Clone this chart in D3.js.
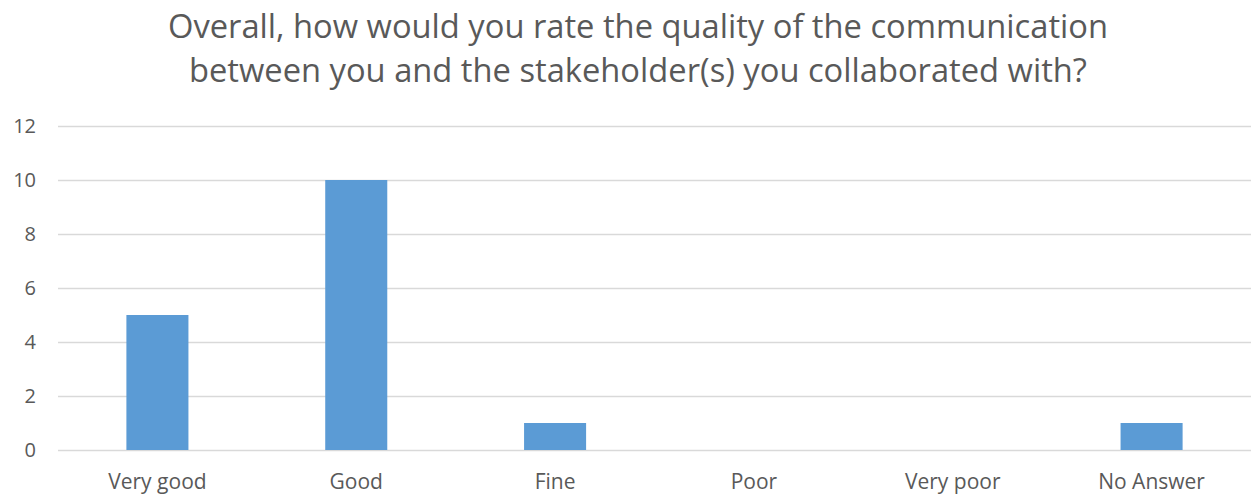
<!DOCTYPE html>
<html>
<head>
<meta charset="utf-8">
<script src="https://cdn.jsdelivr.net/npm/d3@7"></script>
<style>
  html, body { margin: 0; padding: 0; background: #fff; }
  text { font-family: "Open Sans", "Liberation Sans", sans-serif; fill: #595959; }
</style>
</head>
<body>
<svg id="chart" width="1252" height="495"></svg>
<script>
const titleLines = [
  "Overall, how would you rate the quality of the communication",
  "between you and the stakeholder(s) you collaborated with?"
];
const categories = ["Very good", "Good", "Fine", "Poor", "Very poor", "No Answer"];
const values = [5, 10, 1, 0, 0, 1];
const yTicks = [0, 2, 4, 6, 8, 10, 12];

const svg = d3.select("#chart");
const plot = { left: 58, right: 1251, top: 126, bottom: 450 };

const x = d3.scaleBand().domain(categories).range([plot.left, plot.right]).padding(0);
const y = d3.scaleLinear().domain([0, 12]).range([plot.bottom, plot.top]);
const barW = x.bandwidth() * 0.312;

// Horizontal gridlines
svg.append("g").selectAll("line").data(yTicks).join("line")
  .attr("x1", plot.left).attr("x2", plot.right)
  .attr("y1", d => y(d) + 0.5).attr("y2", d => y(d) + 0.5)
  .attr("stroke", "#d9d9d9").attr("stroke-width", 1.3);

// Bars
svg.append("g").selectAll("rect").data(values).join("rect")
  .attr("x", (d, i) => x(categories[i]) + x.bandwidth() / 2 - barW / 2)
  .attr("width", barW)
  .attr("y", d => y(d))
  .attr("height", d => y(0) - y(d))
  .attr("fill", "#5b9bd5");

// Y axis labels
const yAxis = d3.axisLeft(y).tickValues(yTicks).tickSize(0).tickPadding(0);
const ya = svg.append("g").attr("transform", "translate(36,0)").call(yAxis);
ya.select(".domain").remove();
ya.selectAll("text").attr("font-size", 20).style("fill", "#595959")
  .attr("font-family", "Open Sans, sans-serif");

// X axis labels
const xAxis = d3.axisBottom(x).tickSize(0).tickPadding(0);
const xa = svg.append("g").attr("transform", `translate(0,${plot.bottom})`).call(xAxis);
xa.select(".domain").remove();
xa.selectAll("text").attr("font-size", 21).attr("dy", null).attr("y", 39)
  .style("fill", "#595959").attr("font-family", "Open Sans, sans-serif");

// Title
svg.append("g").selectAll("text").data(titleLines).join("text")
  .attr("x", 638).attr("y", (d, i) => 38 + i * 44)
  .attr("text-anchor", "middle")
  .attr("font-size", 32.7)
  .text(d => d);
</script>
</body>
</html>
